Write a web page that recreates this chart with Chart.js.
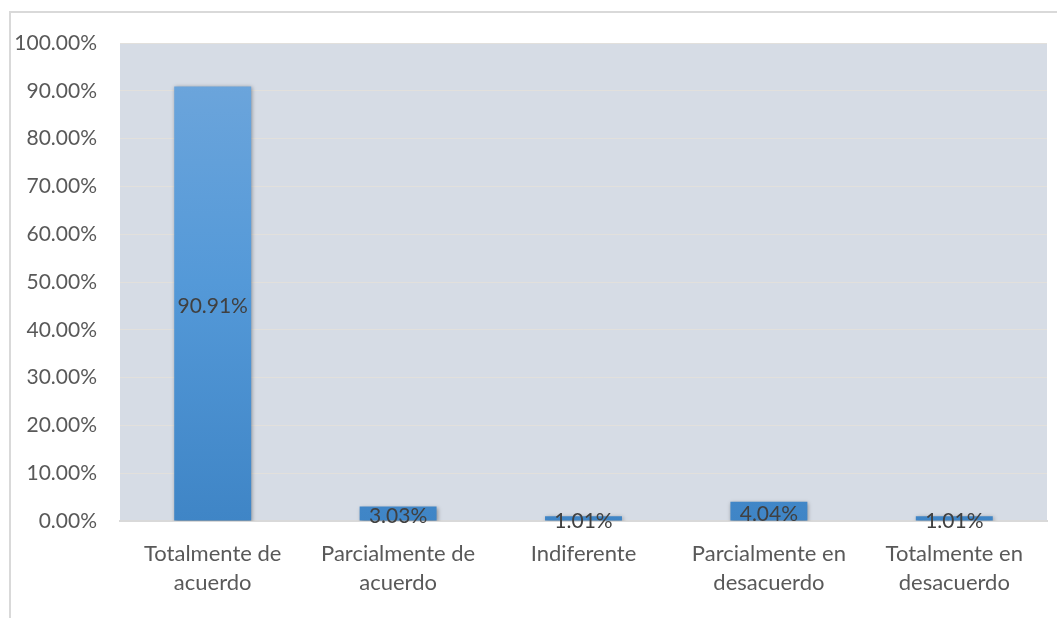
<!DOCTYPE html>
<html>
<head>
<meta charset="utf-8">
<script src="https://cdn.jsdelivr.net/npm/chart.js@4/dist/chart.umd.min.js"></script>
<style>
  html, body { margin: 0; padding: 0; background: #fff; }
  #frame { position: absolute; left: 9px; top: 11px; width: 1060px; height: 620px; border: 2px solid #d9d9d9; box-sizing: border-box; }
  #wrap { position: absolute; left: 0; top: 0; width: 1057px; height: 618px; }
</style>
</head>
<body>
<div id="frame"></div>
<div id="wrap"><canvas id="bar-chart"></canvas></div>
<script>
var categories = [["Totalmente de", "acuerdo"], ["Parcialmente de", "acuerdo"], "Indiferente", ["Parcialmente en", "desacuerdo"], ["Totalmente en", "desacuerdo"]];
var values = [90.91, 3.03, 1.01, 4.04, 1.01];
var yTicks = [0, 10, 20, 30, 40, 50, 60, 70, 80, 90, 100];

var plotBg = {
  id: 'plotBg',
  beforeDraw: function (chart) {
    var a = chart.chartArea, ctx = chart.ctx;
    ctx.save();
    ctx.fillStyle = '#d6dce5';
    ctx.fillRect(a.left, a.top, a.right - a.left, a.bottom - a.top);
    ctx.restore();
  }
};

// soft shadow around the bars
var barShadow = {
  id: 'barShadow',
  beforeDatasetDraw: function (chart) {
    var ctx = chart.ctx;
    ctx.shadowColor = 'rgba(0,0,0,0.35)';
    ctx.shadowBlur = 4;
    ctx.shadowOffsetX = 1;
    ctx.shadowOffsetY = 1;
  },
  afterDatasetDraw: function (chart) {
    var ctx = chart.ctx;
    ctx.shadowColor = 'rgba(0,0,0,0)';
    ctx.shadowBlur = 0;
    ctx.shadowOffsetX = 0;
    ctx.shadowOffsetY = 0;
  }
};

var barLabels = {
  id: 'barLabels',
  afterDatasetsDraw: function (chart) {
    var ctx = chart.ctx;
    var meta = chart.getDatasetMeta(0);
    ctx.save();
    ctx.font = '21px Lato, "Open Sans", sans-serif';
    ctx.fillStyle = '#404040';
    ctx.textAlign = 'center';
    ctx.textBaseline = 'middle';
    meta.data.forEach(function (bar, i) {
      var mid = (bar.y + bar.base) / 2;
      ctx.fillText(values[i].toFixed(2) + '%', bar.x, mid + 3);
    });
    ctx.restore();
  }
};

new Chart(document.getElementById("bar-chart"), {
  type: 'bar',
  data: {
    labels: categories,
    datasets: [{
      data: values,
      backgroundColor: function (c) {
        var a = c.chart.chartArea;
        if (!a) return '#5b9bd5';
        var g = c.chart.ctx.createLinearGradient(0, a.top, 0, a.bottom);
        g.addColorStop(0, '#70a7dc');
        g.addColorStop(0.5, '#5499d8');
        g.addColorStop(1, '#3f85c6');
        return g;
      },
      borderWidth: 0,
      categoryPercentage: 1,
      barPercentage: 0.415
    }]
  },
  plugins: [plotBg, barShadow, barLabels],
  options: {
    responsive: true,
    maintainAspectRatio: false,
    animation: false,
    layout: { padding: { top: 43, right: 10, left: 0, bottom: 0 } },
    plugins: { legend: { display: false }, tooltip: { enabled: false } },
    scales: {
      y: {
        min: 0, max: 100,
        afterFit: function (s) { s.width = 120; },
        afterBuildTicks: function (s) { s.ticks = yTicks.map(function (v) { return { value: v }; }); },
        ticks: {
          padding: 23,
          color: '#595959',
          font: { family: 'Lato, "Open Sans", sans-serif', size: 21 },
          callback: function (v) { return v.toFixed(2) + '%'; }
        },
        grid: { color: '#e2e0dc', drawTicks: false },
        border: { display: false }
      },
      x: {
        afterFit: function (s) { s.height = 97; },
        ticks: {
          padding: 10,
          maxRotation: 0,
          color: '#595959',
          font: { family: 'Lato, "Open Sans", sans-serif', size: 22, lineHeight: 1.32 }
        },
        grid: { display: false },
        border: { color: '#d9d9d9', width: 2 }
      }
    }
  }
});
</script>
</body>
</html>
